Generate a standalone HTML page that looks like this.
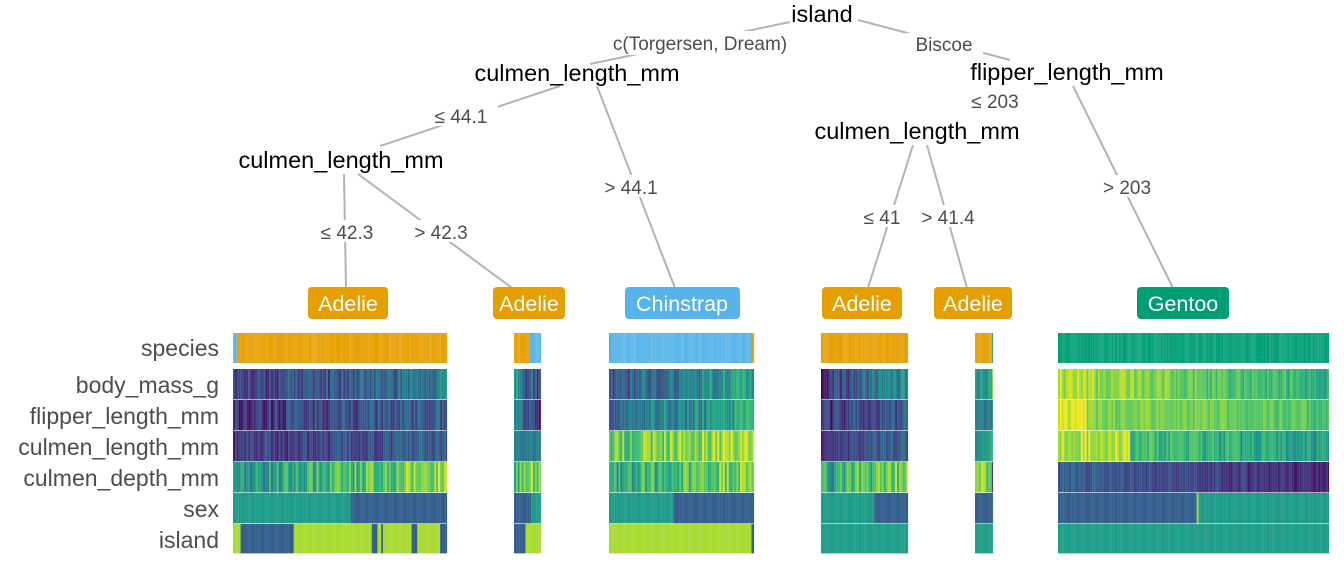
<!DOCTYPE html>
<html><head><meta charset="utf-8"><style>
html,body{margin:0;padding:0;background:#fff;}
body{width:1344px;height:576px;overflow:hidden;position:relative;font-family:"Liberation Sans",sans-serif;}
svg{position:absolute;left:0;top:0;}
</style></head><body>
<svg id="s" width="1344" height="576" xmlns="http://www.w3.org/2000/svg" font-family="Liberation Sans, sans-serif">
<g stroke="#b3b3b3" stroke-width="2" fill="none">
<line x1="858" y1="20" x2="1010" y2="60"/>
<line x1="790" y1="22" x2="590" y2="64"/>
<line x1="560" y1="86" x2="380" y2="146"/>
<line x1="597" y1="86" x2="675" y2="288"/>
<line x1="344" y1="174" x2="346" y2="288"/>
<line x1="358" y1="174" x2="512" y2="288"/>
<line x1="1073" y1="86" x2="1173" y2="288"/>
<line x1="913" y1="145" x2="868" y2="288"/>
<line x1="927" y1="145" x2="967" y2="288"/>
</g>
<g font-size="19" fill="#4d4d4d" text-anchor="middle">
<rect x="590" y="31" width="220" height="24" fill="#fff"/>
<text x="700" y="50">c(Torgersen, Dream)</text>
<rect x="905" y="33" width="78" height="22" fill="#fff"/>
<text x="944" y="51">Biscoe</text>
<rect x="424" y="104" width="74" height="22" fill="#fff"/>
<text x="461" y="123">≤ 44.1</text>
<rect x="594" y="175" width="74" height="22" fill="#fff"/>
<text x="631" y="194">&gt; 44.1</text>
<rect x="310" y="220" width="74" height="22" fill="#fff"/>
<text x="347" y="239">≤ 42.3</text>
<rect x="404" y="220" width="74" height="22" fill="#fff"/>
<text x="441" y="239">&gt; 42.3</text>
<rect x="962" y="89" width="66" height="22" fill="#fff"/>
<text x="995" y="108">≤ 203</text>
<rect x="1094" y="175" width="66" height="22" fill="#fff"/>
<text x="1127" y="194">&gt; 203</text>
<rect x="856" y="205" width="52" height="22" fill="#fff"/>
<text x="882" y="224">≤ 41</text>
<rect x="912" y="205" width="72" height="22" fill="#fff"/>
<text x="948" y="224">&gt; 41.4</text>
</g>
<g font-size="23.5" fill="#000" text-anchor="middle">
<text x="822" y="22">island</text>
<text x="577" y="81">culmen_length_mm</text>
<text x="341" y="168">culmen_length_mm</text>
<text x="1067" y="80">flipper_length_mm</text>
<text x="917" y="139">culmen_length_mm</text>
</g>
<g font-size="21.5" fill="#fff" text-anchor="middle">
<rect x="308" y="287" width="80" height="32" rx="4" fill="#E69F00"/><text x="348" y="311">Adelie</text>
<rect x="493" y="287" width="72" height="32" rx="4" fill="#E69F00"/><text x="529" y="311">Adelie</text>
<rect x="625" y="287" width="115" height="32" rx="4" fill="#56B4E9"/><text x="682" y="311">Chinstrap</text>
<rect x="822" y="287" width="80" height="32" rx="4" fill="#E69F00"/><text x="862" y="311">Adelie</text>
<rect x="934" y="287" width="78" height="32" rx="4" fill="#E69F00"/><text x="973" y="311">Adelie</text>
<rect x="1137" y="287" width="92" height="32" rx="4" fill="#009E73"/><text x="1183" y="311">Gentoo</text>
</g>
<g font-size="23" fill="#4d4d4d" text-anchor="end">
<text x="219" y="356">species</text>
<text x="219" y="393">body_mass_g</text>
<text x="219" y="424">flipper_length_mm</text>
<text x="219" y="455">culmen_length_mm</text>
<text x="219" y="486">culmen_depth_mm</text>
<text x="219" y="517">sex</text>
<text x="219" y="548">island</text>
</g>
<g id="hm"></g>
</svg>
<script>
var V=[[68,1,84],[72,40,120],[62,74,137],[49,104,142],[38,130,142],[31,158,137],[53,183,121],[110,206,88],[181,222,43],[253,231,37]];
function vir(t){t=Math.max(0,Math.min(1,t))*9;var i=Math.min(8,Math.floor(t)),f=t-i,a=V[i],b=V[i+1];
return 'rgb('+[0,1,2].map(function(k){return Math.round(a[k]+(b[k]-a[k])*f)}).join(',')+')';}
var seed=7;function rnd(){seed=(seed*16807)%2147483647;return seed/2147483647;}
var rows=[[369,31],[400,31],[431,31],[462,31],[493,31],[524,30]];
var SEX_G=0.55,SEX_B=0.3,ISL_Y=0.87,ISL_B=0.3,ISL_G=0.56;
function sp(c){return function(){return c}}
var O='#E69F00',B='#56B4E9',G='#009E73';
var P=[
[233,447,function(u){return u<0.01?B:O},[
 function(u){return 0.15+0.25*u+(rnd()-0.5)*0.3},
 function(u){return 0.15+0.15*u+(rnd()-0.5)*0.3},
 function(u){return 0.15+0.15*u+(rnd()-0.5)*0.25},
 function(u){return 0.5+0.35*u+(rnd()-0.5)*0.35},
 function(u){return u<0.55?SEX_G:SEX_B},
 function(u){return (u>0.03&&u<0.28)||(u>0.64&&u<0.67)||(u>0.69&&u<0.7)||(u>0.83&&u<0.86)||u>0.96?ISL_B:ISL_Y}]],
[514,541,function(u){return u<0.55?O:B},[
 function(u){return 0.45-0.3*u+(rnd()-0.5)*0.4},
 function(u){return 0.4-0.2*u+(rnd()-0.5)*0.3},
 function(u){return 0.42+(rnd()-0.5)*0.1},
 function(u){return 0.75+(rnd()-0.5)*0.4},
 function(u){return u<0.6?SEX_B:SEX_G},
 function(u){return u<0.4?ISL_B:ISL_Y}]],
[609,754,function(u){return u>0.97?O:B},[
 function(u){return 0.25+0.35*u+(rnd()-0.5)*0.3},
 function(u){return 0.35+0.25*u+(rnd()-0.5)*0.3},
 function(u){return 0.75+0.15*u+(rnd()-0.5)*0.3},
 function(u){return 0.55+0.3*u+(rnd()-0.5)*0.35},
 function(u){return u<0.44?SEX_G:SEX_B},
 function(u){return u>0.97?ISL_B:ISL_Y}]],
[821,908,sp(O),[
 function(u){return 0.15+0.35*u+(rnd()-0.5)*0.3},
 function(u){return 0.15+0.15*u+(rnd()-0.5)*0.3},
 function(u){return 0.15+0.15*u+(rnd()-0.5)*0.2},
 function(u){return 0.55+0.3*u+(rnd()-0.5)*0.35},
 function(u){return u<0.59?SEX_G:SEX_B},
 function(u){return ISL_G}]],
[975,993,function(u){return u>0.85?G:O},[
 function(u){return 0.5+0.2*u+(rnd()-0.5)*0.3},
 function(u){return 0.4+(rnd()-0.5)*0.2},
 function(u){return 0.45+0.2*u+(rnd()-0.5)*0.1},
 function(u){return u>0.85?0.1:0.8+(rnd()-0.5)*0.3},
 function(u){return SEX_B},
 function(u){return ISL_G}]],
[1058,1329,sp(G),[
 function(u){return 0.88-0.25*u+(rnd()-0.5)*0.2},
 function(u){return (u<0.1?0.95:0.82-0.1*u)+(rnd()-0.5)*0.15},
 function(u){return (u<0.26?0.9:0.7-0.15*u)+(rnd()-0.5)*0.25},
 function(u){return 0.3-0.2*u+(rnd()-0.5)*0.15},
 function(u){return u<0.51?SEX_B:(u<0.515?0.85:SEX_G)},
 function(u){return ISL_G}]]
];
var h='';
P.forEach(function(p){var x0=p[0],x1=p[1],w=1.9;
 for(var x=x0;x<x1;x+=w){var u=(x-x0)/(x1-x0),ww=Math.min(w,x1-x)+0.1;
  var sc=p[2](u);
  h+='<rect x="'+x.toFixed(1)+'" y="333" width="'+ww.toFixed(1)+'" height="30" fill="'+sc+'" fill-opacity="'+(0.88+rnd()*0.12)+'"/>';
  p[3].forEach(function(f,i){h+='<rect x="'+x.toFixed(1)+'" y="'+rows[i][0]+'" width="'+ww.toFixed(1)+'" height="'+(rows[i][1]-0.6)+'" fill="'+vir(f(u))+'"/>';});
 }});
document.getElementById('hm').innerHTML=h;
</script>
</body></html>
